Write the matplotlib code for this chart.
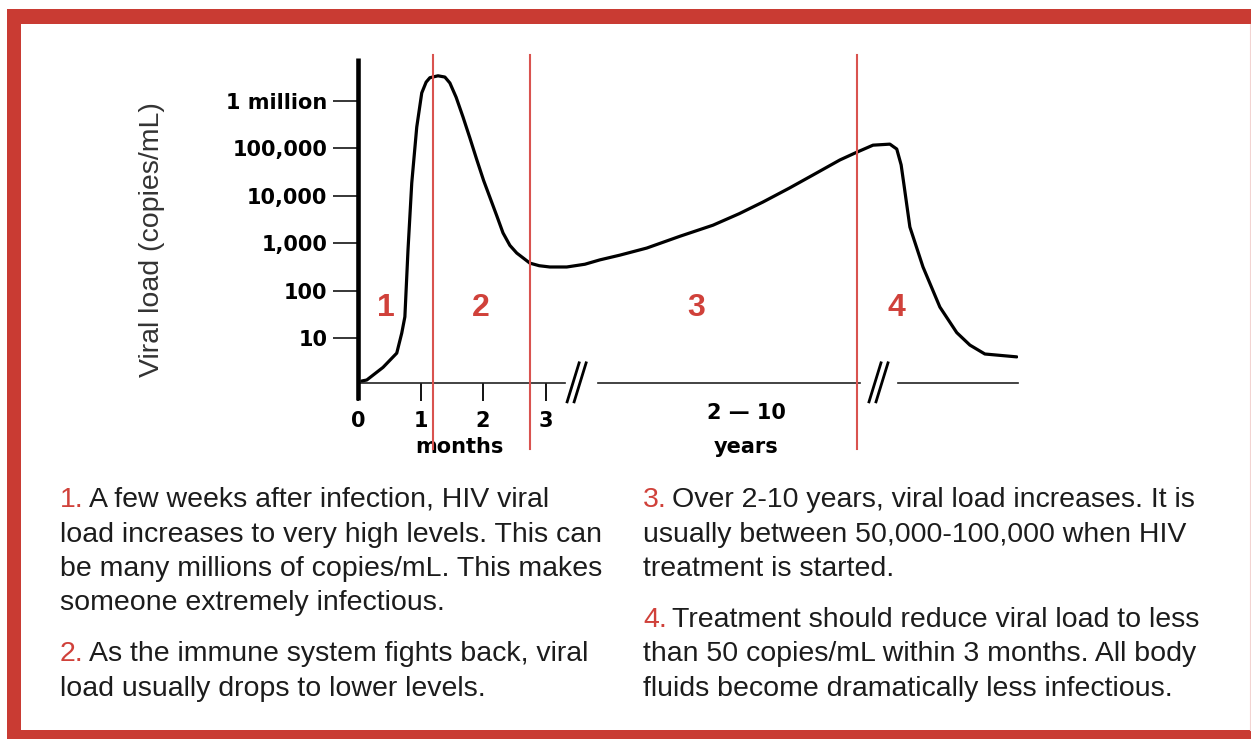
import matplotlib
matplotlib.use("Agg")
import matplotlib.pyplot as plt
from matplotlib.patches import Rectangle

# ---------------- data ----------------
# time position (month-equivalent display units; months 0-3, then compressed years)
time_pos = [0.06, 0.14, 0.40, 0.62, 0.70, 0.75, 0.80, 0.86, 0.94, 1.02, 1.09, 1.15,
            1.28, 1.39, 1.47, 1.57, 1.68, 1.79, 1.90, 2.01, 2.11, 2.22, 2.32, 2.43, 2.54, 2.75, 2.90, 3.07,
            3.34, 3.63, 3.87, 4.19, 4.62, 5.15, 5.68, 6.10, 6.48, 6.90, 7.28, 7.71, 7.98, 8.24,
            8.51, 8.62, 8.69, 8.74, 8.83, 9.04, 9.31, 9.58, 9.79, 10.03, 10.54]
viral_load = [1.24, 1.3, 2.4, 4.8, 12.7, 28, 720, 18600, 282000, 1480000, 2500000, 3100000,
              3400000, 3200000, 2400000, 1200000, 460000, 166000, 58000, 21000, 9300, 3800, 1650, 900, 620, 380, 335, 315,
              315, 360, 445, 560, 790, 1400, 2400, 4200, 7400, 14500, 27500, 57000, 83000, 117000,
              123000, 97000, 45000, 15500, 2200, 315, 45, 13, 7.1, 4.6, 4.0]

ytick_values = [10, 100, 1000, 10000, 100000, 1000000]
ytick_labels = ["10", "100", "1,000", "10,000", "100,000", "1 million"]
month_ticks = [0, 1, 2, 3]
month_labels = ["0", "1", "2", "3"]
phase_bounds = [1.2, 2.75, 7.98]
phase_names = ["1", "2", "3", "4"]
phase_label_x = [0.45, 1.97, 5.41, 8.62]
phase_label_y = 43
axis_segments = [(0, 3.31), (3.84, 8.03), (8.64, 10.56)]
break_x = [3.49, 8.32]
y_label = "Viral load (copies/mL)"
months_label = "months"
years_range_label = "2 \u2014 10"
years_label = "years"

left_paragraphs = [
    ("1.", ["A few weeks after infection, HIV viral",
            "load increases to very high levels. This can",
            "be many millions of copies/mL. This makes",
            "someone extremely infectious."]),
    ("2.", ["As the immune system fights back, viral",
            "load usually drops to lower levels."]),
]
right_paragraphs = [
    ("3.", ["Over 2-10 years, viral load increases. It is",
            "usually between 50,000-100,000 when HIV",
            "treatment is started."]),
    ("4.", ["Treatment should reduce viral load to less",
            "than 50 copies/mL within 3 months. All body",
            "fluids become dramatically less infectious."]),
]

# ---------------- style ----------------
RED_FRAME = "#c93b33"
RED_LINE = "#d9534f"
RED_TEXT = "#d0413a"
TXT = "#1c1c1c"
W, H = 1251, 739
DPI = 100

fig = plt.figure(figsize=(W / DPI, H / DPI), dpi=DPI)
fig.patch.set_facecolor("white")

# overlay axes in pixel coordinates (for frame and text blocks)
ov = fig.add_axes([0, 0, 1, 1], zorder=1)
ov.set_xlim(0, W)
ov.set_ylim(H, 0)
ov.axis("off")
# frame bands (top, left, bottom)
ov.add_patch(Rectangle((7, 9), W - 7, 15, fc=RED_FRAME, ec="none"))
ov.add_patch(Rectangle((7, 9), 14, H - 9, fc=RED_FRAME, ec="none"))
ov.add_patch(Rectangle((7, 730), W - 7, 9, fc=RED_FRAME, ec="none"))
ov.plot([1250, 1250], [24, 730], color="#f2d4d2", lw=0.8)

# main axes
ax_left, ax_right, ax_top, ax_bot = 358, 1018, 58, 383
ax = fig.add_axes([ax_left / W, (H - ax_bot) / H, (ax_right - ax_left) / W, (ax_bot - ax_top) / H],
                  zorder=2)
ax.patch.set_visible(False)
ax.set_yscale("log")
ax.set_xlim(0, 10.56)
ax.set_ylim(10 ** 0.051, 10 ** 6.907)
for s in ax.spines.values():
    s.set_visible(False)

tick_font = dict(family="DejaVu Sans", weight="bold", size=15)
ax.set_yticks(ytick_values)
ax.set_yticklabels(ytick_labels, **tick_font)
ax.yaxis.set_minor_locator(matplotlib.ticker.NullLocator())
ax.tick_params(axis="y", direction="out", length=18, width=1.1, pad=4, colors="black")
ax.set_xticks(month_ticks)
ax.set_xticklabels(month_labels, **tick_font)
ax.tick_params(axis="x", direction="out", length=13, width=1.3, pad=7, colors="black")

xt = ax.get_xaxis_transform()
# y axis line (extends below baseline)
ax.plot([0, 0], [1.0, -0.052], transform=xt, color="black", lw=3.3,
        solid_capstyle="butt", clip_on=False, zorder=4)
# broken baseline
for a, b in axis_segments:
    ax.plot([a, b], [0, 0], transform=xt, color="#222222", lw=1.2, clip_on=False, zorder=3)
px = 1 / 62.5
for cx in break_x:
    for off in (-9, -2):
        ax.plot([cx + off * px, cx + (off + 12) * px], [-0.058, 0.062], transform=xt,
                color="black", lw=2.0, clip_on=False, zorder=3)

# curve
ax.plot(time_pos, viral_load, color="black", lw=2.3, solid_joinstyle="round",
        solid_capstyle="round", zorder=3)

# phase boundaries
for b in phase_bounds:
    ax.plot([b, b], [1.009, -0.203], transform=xt, color=RED_LINE, lw=1.5,
            clip_on=False, zorder=5)
for nm, xx in zip(phase_names, phase_label_x):
    ax.text(xx, phase_label_y, nm, color=RED_TEXT, fontsize=23, fontweight="bold",
            family="Liberation Sans", ha="center", va="center", zorder=6)

# axis labels
ov.text(152, 240, y_label, rotation=90, ha="center", va="center", fontsize=20.5,
        family="Liberation Sans", color="#333333")
lab_font = dict(family="DejaVu Sans", weight="bold", size=15, color="black")
ov.text(459, 447, months_label, ha="center", va="center", **lab_font)
ov.text(746, 413, years_range_label, ha="center", va="center", **lab_font)
ov.text(746, 447, years_label, ha="center", va="center", **lab_font)

# text blocks
BODY = 20.5
body_font = dict(family="Liberation Sans", size=BODY)
renderer = fig.canvas.get_renderer()
space_px = 0.17 * BODY * DPI / 72


def draw_block(x0, baselines, paragraphs):
    i = 0
    for num, lines in paragraphs:
        for j, line in enumerate(lines):
            y = baselines[i]
            if j == 0:
                t = ov.text(x0, y, num, color=RED_TEXT, va="baseline", ha="left", **body_font)
                w = t.get_window_extent(renderer).width
                ov.text(x0 + w + space_px, y, line, color=TXT, va="baseline", ha="left", **body_font)
            else:
                ov.text(x0, y, line, color=TXT, va="baseline", ha="left", **body_font)
            i += 1


draw_block(60, [507, 541.5, 576, 610.5, 661, 695.5], left_paragraphs)
draw_block(643, [507, 541.5, 576, 627, 661, 695.5], right_paragraphs)

fig.savefig("out.png", dpi=DPI, facecolor="white")
